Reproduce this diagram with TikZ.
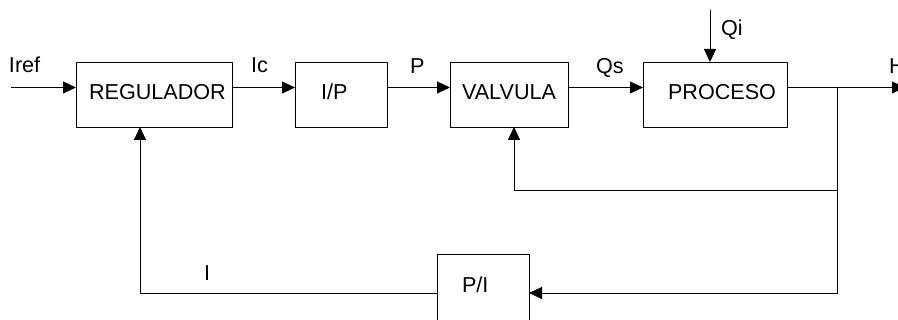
\documentclass[tikz,border=0pt]{standalone}
\usepackage{fontspec}
\setmainfont{Liberation Sans}
\usetikzlibrary{arrows.meta}

\begin{document}
\begin{tikzpicture}[x=1pt,y=-1pt,
  line width=0.9pt,
  every node/.style={inner sep=0pt, outer sep=0pt},
  block/.style={draw, anchor=north west, line width=0.9pt},
  lbl/.style={anchor=base west, font=\fontsize{21.6}{26}\selectfont},
  sig/.style={-{Triangle[length=13pt,width=12pt]}},
]
  \useasboundingbox (0,0) rectangle (898,320);
  \clip (0,0) rectangle (898,320);

  % blocks
  \node[block, minimum width=156pt, minimum height=65pt] (reg) at (76,62) {};
  \node[block, minimum width=92pt,  minimum height=65pt] (ip)  at (295,62) {};
  \node[block, minimum width=118pt, minimum height=65pt] (val) at (450,62) {};
  \node[block, minimum width=144pt, minimum height=65pt] (proc) at (643,62) {};
  \node[block, minimum width=92pt,  minimum height=90pt] (pi)  at (437,254) {};

  % block captions
  \node[lbl] (tReg)  at (89,100)  {REGULADOR};
  \node[lbl] (tIp)   at (321,100) {I/P};
  \node[lbl] (tVal)  at (462,100) {VALVULA};
  \node[lbl] (tProc) at (668,100) {PROCESO};
  \node[lbl] (tPi)   at (462,293) {P/I};

  % signal labels
  \node[lbl] (lIref) at (9,73)  {Iref};
  \node[lbl] (lIc)   at (251,73) {Ic};
  \node[lbl] (lP)    at (410,74) {P};
  \node[lbl] (lQs)   at (596,74) {Qs};
  \node[lbl] (lQi)   at (721,36) {Qi};
  \node[lbl] (lH)    at (889,74) {H};
  \node[lbl] (lI)    at (204,281) {I};

  % free ends and junctions
  \coordinate (in)   at (11,87.5);
  \coordinate (qitop) at (710,10);
  \coordinate (out)  at (905,87.5);
  \coordinate (br)   at (837.5,87.5);
  \coordinate (brv)  at (837.5,190);
  \coordinate (brb)  at (837.5,293);
  \coordinate (vin)  at (514,190);
  \coordinate (fl)   at (140,293);

  % forward path
  \draw[sig] (in) -- (in -| reg.west);
  \draw[sig] (reg.east |- in) -- (ip.west |- in);
  \draw[sig] (ip.east |- in) -- (val.west |- in);
  \draw[sig] (val.east |- in) -- (proc.west |- in);
  \draw[sig] (qitop) -- (qitop |- proc.north);
  \draw[sig] (proc.east |- in) -- (out);

  % feedback loops
  \draw (br) -- (brb);
  \draw[sig] (brv) -- (vin) -- (vin |- val.south);
  \draw[sig] (brb) -- (brb -| pi.east);
  \draw[sig] (fl -| pi.west) -- (fl) -- (fl |- reg.south);
\end{tikzpicture}
\end{document}
